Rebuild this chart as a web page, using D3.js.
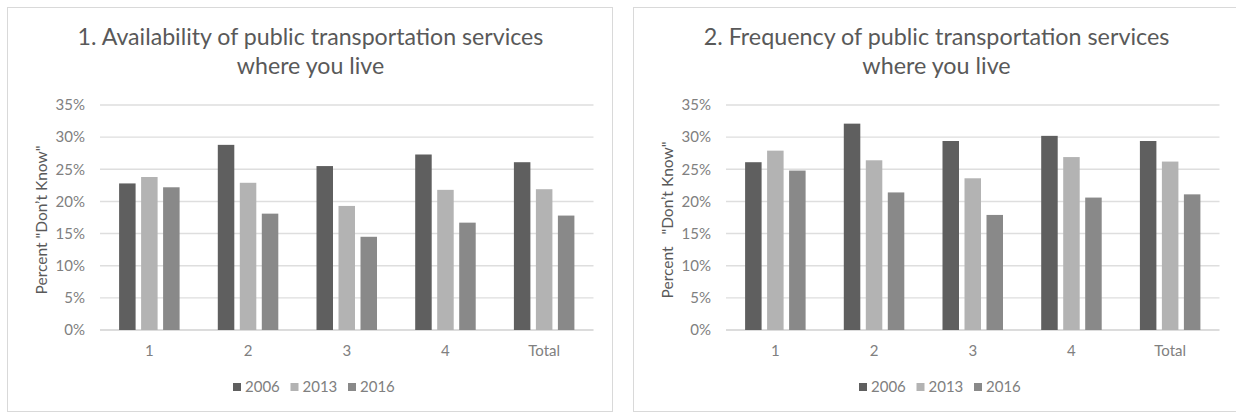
<!DOCTYPE html>
<html>
<head>
<meta charset="utf-8">
<script src="https://cdn.jsdelivr.net/npm/d3@7"></script>
<style>
  html, body { margin: 0; padding: 0; background: #ffffff; }
  svg { display: block; }
  text { font-family: Lato, "Open Sans", "DejaVu Sans", sans-serif; }
</style>
</head>
<body>
<svg id="chart" width="1236" height="412"></svg>
<script>
// Categories, series and tick labels
const categories = ["1", "2", "3", "4", "Total"];
const years = ["2006", "2013", "2016"];

// Panel 1: availability of public transportation services (% "Don't Know")
const availability2006 = [22.8, 28.8, 25.5, 27.3, 26.1];
const availability2013 = [23.8, 22.9, 19.3, 21.8, 21.9];
const availability2016 = [22.2, 18.1, 14.5, 16.7, 17.8];

// Panel 2: frequency of public transportation services (% "Don't Know")
const frequency2006 = [26.1, 32.1, 29.4, 30.2, 29.4];
const frequency2013 = [27.9, 26.4, 23.6, 26.9, 26.2];
const frequency2016 = [24.8, 21.4, 17.9, 20.6, 21.1];

const yTicks = [0, 5, 10, 15, 20, 25, 30, 35];

const panels = [
  {
    titleLines: ["1. Availability of public transportation services", "where you live"],
    yLabel: "Percent \"Don\u2019t Know\"",
    series: [availability2006, availability2013, availability2016],
    left: 7
  },
  {
    titleLines: ["2. Frequency of public transportation services", "where you live"],
    yLabel: "Percent \u00A0\u00A0\"Don\u2019t Know\"",
    series: [frequency2006, frequency2013, frequency2016],
    left: 633
  }
];

const yearColor = d3.scaleOrdinal().domain(years).range(["#5f5f5f", "#b3b3b3", "#898989"]);

const svg = d3.select("#chart");

// Geometry of each panel (relative to the panel's left edge)
const panelW = 605, panelTop = 7, panelBottom = 411;
const plotX0 = 93, plotX1 = 586.5;
const plotY0 = 330, plotY1 = 105;

const y = d3.scaleLinear().domain([0, 35]).range([plotY0, plotY1]);
const x0 = d3.scaleBand().domain(categories).range([plotX0, plotX1])
  .paddingInner(0.387).paddingOuter(0.1935);
const x1 = d3.scaleBand().domain(years).range([0, x0.bandwidth()]).paddingInner(0.25);

panels.forEach(p => {
  const g = svg.append("g").attr("transform", `translate(${p.left},0)`);

  // chart frame
  g.append("rect")
    .attr("x", 0.5).attr("y", panelTop + 0.5)
    .attr("width", panelW).attr("height", panelBottom - panelTop)
    .attr("fill", "#ffffff").attr("stroke", "#d9d9d9").attr("stroke-width", 1);

  // title
  const title = g.append("text")
    .attr("text-anchor", "middle")
    .attr("fill", "#595959")
    .style("font-size", "21px");
  p.titleLines.forEach((line, i) => {
    title.append("tspan")
      .attr("x", panelW / 2 + 1)
      .attr("y", 45 + i * 29)
      .text(line);
  });
  // fit the first title line to its width
  const firstLine = title.select("tspan").node();
  const w = firstLine.getComputedTextLength();
  title.style("font-size", (21 * 466 / w) + "px");

  // gridlines
  g.append("g")
    .selectAll("line")
    .data(yTicks)
    .join("line")
    .attr("x1", plotX0).attr("x2", plotX1)
    .attr("y1", d => y(d)).attr("y2", d => y(d))
    .attr("stroke", d => d === 0 ? "#d0d0d0" : "#dedede")
    .attr("stroke-width", 1.4);

  // y axis tick labels
  const yAxis = d3.axisLeft(y).tickValues(yTicks).tickFormat(d => d + "%").tickSize(0).tickPadding(0);
  const ya = g.append("g").attr("transform", `translate(${78},0)`).call(yAxis);
  ya.select(".domain").remove();
  ya.selectAll("text")
    .attr("fill", "#808080")
    .style("font-size", "15px")
    .style("font-family", "Lato, 'Open Sans', sans-serif");

  // y axis title
  g.append("text")
    .attr("transform", `translate(35,220) rotate(-90)`)
    .attr("text-anchor", "middle")
    .attr("dy", "0.35em")
    .attr("fill", "#595959")
    .style("font-size", "15.5px")
    .text(p.yLabel);

  // bars
  const rows = categories.map((c, i) => ({
    category: c,
    values: years.map((yr, k) => ({ year: yr, value: p.series[k][i] }))
  }));

  g.append("g")
    .selectAll("g")
    .data(rows)
    .join("g")
    .attr("transform", d => `translate(${x0(d.category)},0)`)
    .selectAll("rect")
    .data(d => d.values)
    .join("rect")
    .attr("x", d => x1(d.year))
    .attr("width", x1.bandwidth())
    .attr("y", d => y(d.value))
    .attr("height", d => y(0) - y(d.value))
    .attr("fill", d => yearColor(d.year));

  // x axis labels
  const xAxis = d3.axisBottom(x0).tickSize(0).tickPadding(0);
  const xa = g.append("g").attr("transform", `translate(0,${345})`).call(xAxis);
  xa.select(".domain").remove();
  xa.selectAll("text")
    .attr("fill", "#808080")
    .attr("dy", "0.71em")
    .style("font-size", "15px")
    .style("font-family", "Lato, 'Open Sans', sans-serif");

  // legend
  const legend = g.append("g").attr("transform", `translate(226,387)`);
  const item = legend.selectAll("g")
    .data(years)
    .join("g")
    .attr("transform", (d, i) => `translate(${i * 57.5},0)`);
  item.append("rect")
    .attr("x", 0).attr("y", -4)
    .attr("width", 8).attr("height", 8)
    .attr("fill", d => yearColor(d));
  item.append("text")
    .attr("x", 12)
    .attr("dy", "0.36em")
    .attr("fill", "#808080")
    .style("font-size", "15px")
    .text(d => d);
});
</script>
</body>
</html>
